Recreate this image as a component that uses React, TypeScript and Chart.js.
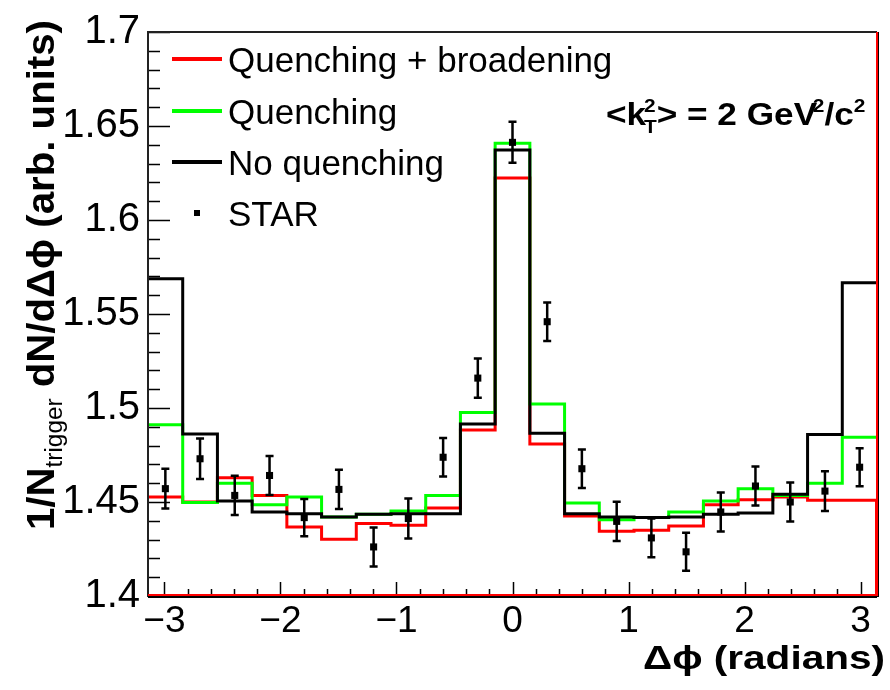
import React, { useEffect, useRef } from "react";
import { Chart, registerables } from "chart.js";
Chart.register(...registerables);

// Histogram bin edges in Δφ (21 bins from -π to π)
const binEdges = [
  -3.1416, -2.8424, -2.5432, -2.244, -1.9448, -1.6456, -1.3464, -1.0472, -0.748, -0.4488, -0.1496,
  0.1496, 0.4488, 0.748, 1.0472, 1.3464, 1.6456, 1.9448, 2.244, 2.5432, 2.8424, 3.1416,
];
// STAR points at bin centres
const starPhi = [
  -2.992, -2.693, -2.394, -2.094, -1.795, -1.496, -1.197, -0.898, -0.598, -0.299, 0,
  0.299, 0.598, 0.898, 1.197, 1.496, 1.795, 2.094, 2.394, 2.693, 2.992,
];
const quenchBroad = [
  1.4526, 1.4500, 1.4629, 1.4535, 1.4367, 1.4302, 1.4385, 1.4376, 1.4468, 1.4883, 1.6224,
  1.4809, 1.4425, 1.4344, 1.435, 1.4373, 1.4486, 1.4512, 1.4526, 1.4509, 1.4509,
];
const quench = [
  1.4911, 1.4497, 1.46, 1.4486, 1.4526, 1.442, 1.4435, 1.4452, 1.4535, 1.4976, 1.6408,
  1.5021, 1.4495, 1.4406, 1.4417, 1.4447, 1.4505, 1.4571, 1.4535, 1.46, 1.4844,
];
const noQuench = [
  1.5687, 1.4862, 1.4505, 1.4447, 1.4438, 1.442, 1.4435, 1.4438, 1.4438, 1.4915, 1.6373,
  1.4866, 1.4438, 1.442, 1.4417, 1.442, 1.4435, 1.4441, 1.4541, 1.4859, 1.5666,
];
const starVal = [
  1.4571, 1.473, 1.4535, 1.4641, 1.4417, 1.4567, 1.4261, 1.4412, 1.4738, 1.5159, 1.6413,
  1.5459, 1.4677, 1.4397, 1.4309, 1.4235, 1.4447, 1.4585, 1.45, 1.4558, 1.4685,
];
const starErr = [
  0.0106, 0.0108, 0.0104, 0.0104, 0.0099, 0.0104, 0.0104, 0.0106, 0.0103, 0.0104, 0.0109,
  0.0102, 0.0102, 0.0104, 0.0103, 0.0101, 0.0104, 0.0104, 0.0104, 0.0106, 0.0101,
];
const xTickValues = [-3, -2, -1, 0, 1, 2, 3];
const yTickValues = [1.4, 1.45, 1.5, 1.55, 1.6, 1.65, 1.7];
const legendLabels = ["Quenching + broadening", "Quenching", "No quenching", "STAR"];
const legendColors = ["#ff0000", "#00ff00", "#000000", "#000000"];

const FONT = '"Liberation Sans", Arial, Helvetica, sans-serif';

const stepData = (vals: number[]) =>
  binEdges.map((e, i) => ({ x: e, y: vals[Math.min(i, vals.length - 1)] }));

function fillFit(ctx: CanvasRenderingContext2D, text: string, x: number, y: number, targetW: number) {
  const w = ctx.measureText(text).width;
  const s = targetW / w;
  ctx.save();
  ctx.translate(x, y);
  ctx.scale(s, 1);
  ctx.fillText(text, 0, 0);
  ctx.restore();
  return targetW;
}

const phiPlugin = {
  id: "phiPlugin",
  beforeDraw(chart: any) {
    const { ctx, width, height } = chart;
    ctx.save();
    ctx.fillStyle = "#fff";
    ctx.fillRect(0, 0, width, height);
    ctx.restore();
  },
  afterDatasetsDraw(chart: any) {
    const ctx: CanvasRenderingContext2D = chart.ctx;
    const xs = chart.scales.x;
    const ys = chart.scales.y;
    ctx.save();
    ctx.strokeStyle = "#000";
    ctx.lineWidth = 2.5;
    starPhi.forEach((phi, i) => {
      const px = xs.getPixelForValue(phi);
      const top = ys.getPixelForValue(starVal[i] + starErr[i]);
      const bot = ys.getPixelForValue(starVal[i] - starErr[i]);
      ctx.beginPath();
      ctx.moveTo(px, top);
      ctx.lineTo(px, bot);
      ctx.moveTo(px - 4, top);
      ctx.lineTo(px + 4, top);
      ctx.moveTo(px - 4, bot);
      ctx.lineTo(px + 4, bot);
      ctx.stroke();
    });
    ctx.restore();
  },
  afterDraw(chart: any) {
    const ctx: CanvasRenderingContext2D = chart.ctx;
    const { left, right, top, bottom } = chart.chartArea;
    const xs = chart.scales.x;
    const ys = chart.scales.y;
    ctx.save();

    // ticks
    ctx.strokeStyle = "#000";
    ctx.lineWidth = 1.5;
    ctx.beginPath();
    for (let i = 0; i <= 30; i++) {
      const v = 1.4 + i * 0.01;
      const py = Math.round(ys.getPixelForValue(v)) + 0.5;
      const len = i % 5 === 0 ? 22 : 12;
      ctx.moveTo(left, py);
      ctx.lineTo(left + len, py);
    }
    for (let i = -15; i <= 15; i++) {
      const v = i * 0.2;
      const px = Math.round(xs.getPixelForValue(v)) + 0.5;
      const len = i % 5 === 0 ? 14 : 7;
      ctx.moveTo(px, bottom);
      ctx.lineTo(px, bottom - len);
    }
    ctx.stroke();

    // frame
    ctx.lineWidth = 2;
    ctx.strokeStyle = "#222";
    ctx.beginPath();
    ctx.moveTo(left, bottom + 1);
    ctx.lineTo(left, top);
    ctx.lineTo(right, top);
    ctx.stroke();
    ctx.beginPath();
    ctx.strokeStyle = "#000";
    ctx.moveTo(left, bottom + 1);
    ctx.lineTo(right, bottom + 1);
    ctx.moveTo(right + 1, top);
    ctx.lineTo(right + 1, bottom + 1);
    ctx.stroke();
    ctx.beginPath();
    ctx.strokeStyle = "#ff0000";
    ctx.lineWidth = 2;
    ctx.moveTo(left, bottom - 1);
    ctx.lineTo(right - 1, bottom - 1);
    ctx.lineTo(right - 1, ys.getPixelForValue(quenchBroad[quenchBroad.length - 1]));
    ctx.moveTo(right, bottom);
    ctx.lineTo(right, top);
    ctx.stroke();

    // legend
    const rowY = [59, 111, 162, 213];
    ctx.lineWidth = 4;
    for (let r = 0; r < 3; r++) {
      ctx.strokeStyle = legendColors[r];
      ctx.beginPath();
      ctx.moveTo(172, rowY[r]);
      ctx.lineTo(222, rowY[r]);
      ctx.stroke();
    }
    ctx.fillStyle = "#000";
    ctx.fillRect(194, rowY[3] - 3, 6, 6);
    ctx.font = `35px ${FONT}`;
    ctx.textBaseline = "alphabetic";
    ctx.textAlign = "left";
    legendLabels.forEach((lab, r) => {
      ctx.fillText(lab, 228, rowY[r] + 12.5);
    });

    // annotation <kT^2> = 2 GeV^2/c^2 (drawn in a horizontally stretched frame)
    ctx.save();
    ctx.translate(606, 125);
    ctx.scale(1.1, 1);
    const big = `bold 32px ${FONT}`;
    const small = `bold 19px ${FONT}`;
    let x = 0;
    const by = 0;
    ctx.font = big;
    ctx.fillText("<k", x, by);
    x += ctx.measureText("<k").width - 2;
    ctx.font = small;
    ctx.fillText("2", x, by - 13);
    ctx.fillText("T", x, by + 8);
    x += Math.max(ctx.measureText("2").width, ctx.measureText("T").width);
    ctx.font = big;
    ctx.fillText("> = 2 GeV", x, by);
    x += ctx.measureText("> = 2 GeV").width - 4;
    ctx.font = small;
    ctx.fillText("2", x, by - 13);
    x += ctx.measureText("2").width;
    ctx.font = big;
    ctx.fillText("/c", x, by);
    x += ctx.measureText("/c").width;
    ctx.font = small;
    ctx.fillText("2", x, by - 13);
    ctx.restore();

    // x title
    ctx.font = `bold 34px ${FONT}`;
    const xt = "\u0394\u03D5 (radians)";
    fillFit(ctx, xt, 643, 669, 242);

    // y title
    ctx.save();
    ctx.translate(54, 530);
    ctx.rotate(-Math.PI / 2);
    ctx.font = `bold 38px ${FONT}`;
    const w1 = ctx.measureText("1/N").width;
    const w3 = ctx.measureText(" dN/d\u0394\u03D5 (arb. units)").width;
    ctx.font = `23px ${FONT}`;
    const w2 = ctx.measureText("trigger").width;
    ctx.scale(510 / (w1 + w2 + w3), 1);
    let yx = 0;
    ctx.font = `bold 38px ${FONT}`;
    ctx.fillText("1/N", yx, 0);
    yx += w1;
    ctx.font = `23px ${FONT}`;
    ctx.fillText("trigger", yx, 8);
    yx += w2;
    ctx.font = `bold 38px ${FONT}`;
    ctx.fillText(" dN/d\u0394\u03D5 (arb. units)", yx, 0);
    ctx.restore();

    ctx.restore();
  },
};

export default function App() {
  const ref = useRef<HTMLCanvasElement>(null);
  useEffect(() => {
    const chart = new Chart(ref.current as HTMLCanvasElement, {
      type: "line",
      data: {
        datasets: [
          {
            label: "STAR",
            data: starPhi.map((x, i) => ({ x, y: starVal[i] })),
            showLine: false,
            pointStyle: "rect",
            pointRadius: 5,
            pointBackgroundColor: "#000",
            pointBorderColor: "#000",
            pointBorderWidth: 0,
            order: 0,
          } as any,
          {
            label: "No quenching",
            data: stepData(noQuench),
            stepped: "before",
            borderColor: "#000",
            borderWidth: 3,
            pointRadius: 0,
            fill: false,
            order: 1,
            clip: 4,
          } as any,
          {
            label: "Quenching",
            data: stepData(quench),
            stepped: "before",
            borderColor: "#00ff00",
            borderWidth: 3,
            pointRadius: 0,
            fill: false,
            order: 2,
            clip: 4,
          } as any,
          {
            label: "Quenching + broadening",
            data: stepData(quenchBroad),
            stepped: "before",
            borderColor: "#ff0000",
            borderWidth: 3,
            pointRadius: 0,
            fill: false,
            order: 3,
            clip: 4,
          } as any,
        ],
      },
      options: {
        responsive: false,
        animation: false,
        devicePixelRatio: 1,
        layout: { padding: { top: 30, right: 13, left: 0, bottom: 0 } },
        plugins: { legend: { display: false }, tooltip: { enabled: false } },
        scales: {
          x: {
            type: "linear",
            min: binEdges[0],
            max: binEdges[binEdges.length - 1],
            afterBuildTicks: (s: any) => {
              s.ticks = xTickValues.map((v) => ({ value: v }));
            },
            afterFit: (s: any) => {
              s.height = 94;
            },
            grid: { display: false, drawTicks: false },
            border: { display: false },
            ticks: {
              autoSkip: false,
              maxRotation: 0,
              padding: 4,
              color: "#000",
              font: { family: FONT, size: 37 },
              callback: (v: any) => (v < 0 ? "\u2212" + Math.abs(v) : String(v)),
            },
          },
          y: {
            type: "linear",
            min: 1.4,
            max: 1.7,
            afterBuildTicks: (s: any) => {
              s.ticks = yTickValues.map((v) => ({ value: v }));
            },
            afterFit: (s: any) => {
              s.width = 148;
            },
            grid: { display: false, drawTicks: false },
            border: { display: false },
            ticks: {
              autoSkip: false,
              padding: 8,
              color: "#000",
              font: { family: FONT, size: 40 },
              callback: (v: any) => String(Number(Number(v).toFixed(2))),
            },
          },
        },
      },
      plugins: [phiPlugin],
    } as any);
    return () => chart.destroy();
  }, []);
  return (
    <div style={{ position: "absolute", left: 0, top: 0, width: 890, height: 690, background: "#fff" }}>
      <canvas ref={ref} width={890} height={690} style={{ width: 890, height: 690, display: "block" }} />
    </div>
  );
}
